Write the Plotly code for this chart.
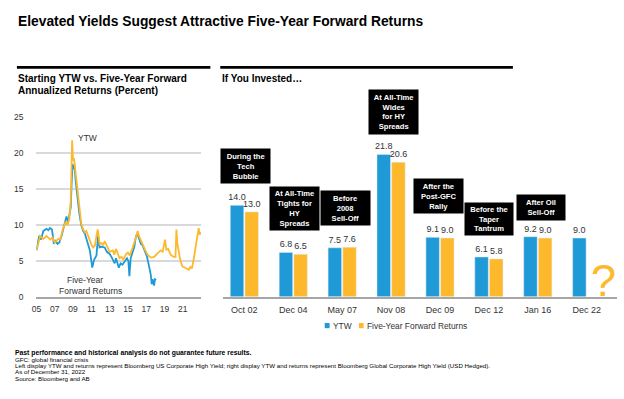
import plotly.graph_objects as go

W, H = 624, 399
BLUE = "#1F9AD6"
YELLOW = "#FDB92B"
FONT = "Liberation Sans"

# ---------------- data: left panel (decimal years) ----------------
ytw_years = [2005.0, 2005.1, 2005.4, 2005.75, 2006.1, 2006.5, 2006.75, 2007.0, 2007.4, 2007.6,
             2007.9, 2008.2, 2008.4, 2008.6, 2008.75, 2008.83, 2008.9, 2009.0, 2009.1, 2009.2,
             2009.3, 2009.5, 2009.7, 2009.9, 2010.1, 2010.3, 2010.45, 2010.6, 2010.84, 2011.0,
             2011.2, 2011.4, 2011.56, 2011.7, 2011.8, 2011.9, 2012.1, 2012.3, 2012.46, 2012.65,
             2012.8, 2013.0, 2013.36, 2013.5, 2013.7, 2013.9, 2014.08, 2014.3, 2014.5, 2014.8,
             2015.0, 2015.2, 2015.35, 2015.52, 2015.75, 2016.06, 2016.2, 2016.42, 2016.6, 2016.78,
             2016.9, 2017.14, 2017.5, 2017.86, 2018.22, 2018.58, 2018.8, 2019.05, 2019.2, 2019.4,
             2019.67, 2020.0, 2020.2, 2020.3, 2020.4, 2020.5, 2020.68, 2020.93, 2021.3, 2021.65,
             2021.83, 2022.0, 2022.19, 2022.37, 2022.5, 2022.6, 2022.73, 2022.84, 2022.98]
ytw_values = [6.7, 6.9, 8.5, 8.1, 8.5, 8.0, 8.3, 7.6, 8.1, 8.0,
              9.5, 10.5, 10.0, 11.0, 13.5, 19.5, 21.8, 19.0, 19.3, 18.2,
              17.0, 14.5, 12.0, 10.2, 9.4, 9.0, 9.2, 8.7, 7.8, 7.3,
              6.9, 7.2, 8.5, 9.4, 8.5, 7.4, 7.5, 7.2, 7.8, 7.2,
              6.7, 6.3, 6.5, 5.9, 6.7, 6.0, 5.4, 5.6, 5.2, 6.0,
              6.2, 5.8, 6.5, 6.9, 7.8, 9.2, 8.5, 7.8, 7.2, 6.9,
              6.5, 5.9, 5.5, 5.6, 6.0, 6.5, 6.3, 8.0, 6.6, 6.7,
              5.9, 5.6, 5.6, 9.4, 7.5, 6.7, 5.4, 4.3, 4.0, 3.8,
              4.2, 4.0, 5.3, 6.7, 7.8, 8.5, 9.6, 8.7, 9.0]

fwd_years = [2005.0, 2005.1, 2005.3, 2005.5, 2005.76, 2006.1, 2006.3, 2006.48, 2006.7, 2006.9,
             2007.1, 2007.3, 2007.5, 2007.74, 2008.1, 2008.28, 2008.46, 2008.6, 2008.75, 2008.85,
             2008.95, 2009.05, 2009.15, 2009.3, 2009.5, 2009.7, 2009.9, 2010.1, 2010.3, 2010.5,
             2010.7, 2010.84, 2011.0, 2011.1, 2011.3, 2011.56, 2011.74, 2011.9, 2012.1, 2012.46,
             2012.7, 2013.0, 2013.2, 2013.4, 2013.55, 2013.7, 2014.0, 2014.2, 2014.4, 2014.6,
             2014.9, 2015.05, 2015.16, 2015.3, 2015.52, 2015.7, 2015.88, 2016.06, 2016.25, 2016.42,
             2016.6, 2016.78, 2017.07, 2017.32, 2017.5, 2017.6, 2017.7, 2017.86, 2017.95, 2018.08]
fwd_values = [6.5, 7.2, 8.5, 8.0, 9.2, 9.5, 9.3, 9.6, 9.4, 7.4,
              7.8, 7.4, 7.6, 8.5, 10.1, 11.2, 10.4, 11.7, 12.5, 16.0,
              18.5, 17.8, 18.3, 16.0, 13.2, 11.5, 10.0, 9.2, 8.8, 7.8,
              7.0, 6.5, 5.0, 4.1, 5.2, 5.8, 8.5, 6.9, 7.0, 6.9,
              6.3, 6.0, 5.6, 5.0, 4.7, 5.4, 4.1, 4.7, 4.5, 4.9,
              5.4, 5.0, 2.9, 5.4, 6.3, 7.0, 8.5, 8.7, 8.0, 7.4,
              7.2, 6.5, 5.7, 4.2, 3.1, 1.8, 2.5, 1.6, 2.5, 2.4]

left_tick_years = [2005, 2007, 2009, 2011, 2013, 2015, 2017, 2019, 2021]
left_tick_text = ["05", "07", "09", "11", "13", "15", "17", "19", "21"]

# ---------------- data: right panel ----------------
periods = ["Oct 02", "Dec 04", "May 07", "Nov 08", "Dec 09", "Dec 12", "Jan 16", "Dec 22"]
bar_ytw = [14.0, 6.8, 7.5, 21.8, 9.1, 6.1, 9.2, 9.0]
bar_fwd = [13.0, 6.5, 7.6, 20.6, 9.0, 5.8, 9.0, None]
callouts = ["During the<br>Tech<br>Bubble",
            "At All-Time<br>Tights for<br>HY<br>Spreads",
            "Before<br>2008<br>Sell-Off",
            "At All-Time<br>Wides<br>for HY<br>Spreads",
            "After the<br>Post-GFC<br>Rally",
            "Before the<br>Taper<br>Tantrum",
            "After Oil<br>Sell-Off"]


def px(x):
    return x / W


def py(y):
    return 1 - y / H


fig = go.Figure()

fig.add_trace(go.Scatter(x=fwd_years, y=fwd_values, mode="lines", name="Five-Year Forward Returns",
                         line=dict(color=BLUE, width=1.8), xaxis="x", yaxis="y", showlegend=False))
fig.add_trace(go.Scatter(x=ytw_years, y=ytw_values, mode="lines", name="YTW",
                         line=dict(color=YELLOW, width=1.8), xaxis="x", yaxis="y", showlegend=False))

fig.add_trace(go.Bar(x=periods, y=bar_ytw, name="YTW", marker_color=BLUE,
                     text=[f"{v:.1f}" for v in bar_ytw], textposition="outside",
                     textfont=dict(size=9, color="#333333", family=FONT), constraintext="none",
                     cliponaxis=False, xaxis="x2", yaxis="y2", showlegend=False))
fig.add_trace(go.Bar(x=periods, y=bar_fwd, name="Five-Year Forward Returns", marker_color=YELLOW,
                     text=[("" if v is None else f"{v:.1f}") for v in bar_fwd], textposition="outside",
                     textfont=dict(size=9, color="#333333", family=FONT), constraintext="none",
                     cliponaxis=False, xaxis="x2", yaxis="y2", showlegend=False))

# left panel geometry (pixels)
L_X0, L_X1, L_Y0, L_Y1 = 31.7, 197.7, 115.0, 299.7
# right panel geometry
R_X0, R_X1, R_YTOP, R_BASE = 220.0, 617.0, 100.0, 299.3
R_SCALE = 6.7
R_SLOT = 49.3
R_C0 = 241.3

fig.update_layout(
    width=W, height=H, margin=dict(l=0, r=0, t=0, b=0),
    paper_bgcolor="white", plot_bgcolor="white",
    font=dict(family=FONT, color="#333333"),
    barmode="group", bargap=0.4, bargroupgap=0.08,
    xaxis=dict(domain=[px(L_X0), px(L_X1)], range=[2005.0, 2023.0], anchor="y",
               tickvals=left_tick_years, ticktext=left_tick_text, showgrid=False,
               showline=True, linecolor="#A6A6A6", linewidth=2, zeroline=False,
               ticklabelstandoff=3,
               tickfont=dict(size=8.5, color="#333333"), ticks="", fixedrange=True),
    yaxis=dict(domain=[py(L_Y1), py(L_Y0)], range=[0, 25], anchor="x",
               tickvals=[0, 5, 10, 15, 20, 25], showgrid=True, gridcolor="#D9D9D9", gridwidth=1.5,
               zeroline=False, showline=False, ticklabelstandoff=12,
               tickfont=dict(size=8.5, color="#333333"), ticks="", fixedrange=True),
    xaxis2=dict(domain=[px(R_X0), px(R_X1)],
                range=[(R_X0 - R_C0) / R_SLOT, (R_X1 - R_C0) / R_SLOT], anchor="y2",
                showgrid=False, showline=True, linecolor="#A6A6A6", linewidth=2, ticks="",
                ticklabelstandoff=3,
                tickfont=dict(size=9, color="#333333"), fixedrange=True),
    yaxis2=dict(domain=[py(R_BASE), py(R_YTOP)], range=[0, (R_BASE - R_YTOP) / R_SCALE], anchor="x2",
                visible=False, fixedrange=True),
)

ann = []
# main title
ann.append(dict(x=px(11), y=py(16.5), xref="paper", yref="paper", xanchor="left", yanchor="middle",
                text="<b>Elevated Yields Suggest Attractive Five-Year Forward Returns</b>", showarrow=False,
                font=dict(size=13.8, color="#000000", family=FONT)))
# panel titles
ann.append(dict(x=px(11.5), y=py(75), xref="paper", yref="paper", xanchor="left", yanchor="middle",
                text="<b>Starting YTW vs. Five-Year Forward</b>", showarrow=False,
                font=dict(size=10, color="#000000")))
ann.append(dict(x=px(11.5), y=py(87.3), xref="paper", yref="paper", xanchor="left", yanchor="middle",
                text="<b>Annualized Returns (Percent)</b>", showarrow=False,
                font=dict(size=10, color="#000000")))
ann.append(dict(x=px(216.5), y=py(75.7), xref="paper", yref="paper", xanchor="left", yanchor="middle",
                text="<b>If You Invested…</b>", showarrow=False, font=dict(size=10, color="#000000")))
# series labels on left panel
ann.append(dict(x=px(83.3), y=py(136), xref="paper", yref="paper", xanchor="center", yanchor="middle",
                text="YTW", showarrow=False, font=dict(size=8.5, color="#333333")))
ann.append(dict(x=px(80.5), y=py(282.3), xref="paper", yref="paper", xanchor="center", yanchor="middle",
                text="Five-Year", showarrow=False, font=dict(size=8.5, color="#333333")))
ann.append(dict(x=px(86.3), y=py(293.3), xref="paper", yref="paper", xanchor="center", yanchor="middle",
                text="Forward Returns", showarrow=False, font=dict(size=8.5, color="#333333")))

# callout boxes (center x, center y, width, height)
boxes = [(242.0, 165.5, 49.4, 34.4), (292.2, 209.2, 49.0, 43.0), (343.3, 207.8, 48.7, 34.3),
         (392.0, 109.7, 49.4, 44.0), (437.0, 195.5, 49.4, 34.4), (488.3, 220.0, 48.0, 32.0),
         (540.0, 207.5, 48.0, 25.0)]
for (cx, cy, bw, bh), txt in zip(boxes, callouts):
    ann.append(dict(x=px(cx), y=py(cy), xref="paper", yref="paper", xanchor="center", yanchor="middle",
                    text=f"<b>{txt}</b>", showarrow=False, bgcolor="#000000", borderpad=0,
                    width=bw, height=bh, align="center",
                    font=dict(size=7.6, color="#FFFFFF")))

# question mark for unknown future return
ann.append(dict(x=px(603.5), y=py(283), xref="paper", yref="paper", xanchor="center", yanchor="middle",
                text="?", showarrow=False, font=dict(size=45, color=YELLOW, family=FONT)))

# legend (manual, compact)
ann.append(dict(x=px(328.5), y=py(329), xref="paper", yref="paper", xanchor="left", yanchor="middle",
                text="YTW", showarrow=False, font=dict(size=8.4, color="#333333")))
ann.append(dict(x=px(362.5), y=py(329), xref="paper", yref="paper", xanchor="left", yanchor="middle",
                text="Five-Year Forward Returns", showarrow=False, font=dict(size=8.4, color="#333333")))

# footnotes
foot = [("<b>Past performance and historical analysis do not guarantee future results.</b>", 356.8, 6.8),
        ("GFC: global financial crisis", 363.2, 6.2),
        ("Left display YTW and returns represent Bloomberg US Corporate High Yield; right display YTW and returns "
         "represent Bloomberg Global Corporate High Yield (USD Hedged).", 369.8, 6.2),
        ("As of December 31, 2022", 376.4, 6.2),
        ("Source: Bloomberg and AB", 383.0, 6.2)]
for txt, yy, fs in foot:
    ann.append(dict(x=px(9.5), y=py(yy), xref="paper", yref="paper", xanchor="left", yanchor="middle",
                    text=txt, showarrow=False, borderpad=0, font=dict(size=fs, color="#000000")))

fig.update_layout(annotations=ann)

shapes = [
    dict(type="line", xref="paper", yref="paper", x0=px(12), x1=px(207), y0=py(64), y1=py(64),
         line=dict(color="#000000", width=2.6)),
    dict(type="line", xref="paper", yref="paper", x0=px(217), x1=px(512), y0=py(64), y1=py(64),
         line=dict(color="#000000", width=2.6)),
    dict(type="rect", xref="paper", yref="paper", x0=px(322.3), x1=px(327.2), y0=py(331.5), y1=py(326.2),
         fillcolor=BLUE, line=dict(width=0)),
    dict(type="rect", xref="paper", yref="paper", x0=px(356.8), x1=px(361.5), y0=py(331.5), y1=py(326.2),
         fillcolor=YELLOW, line=dict(width=0)),
]
fig.update_layout(shapes=shapes)

fig.write_html("out.html", config={"displayModeBar": False},
               post_script="document.body.style.margin='0';document.body.style.overflow='hidden';")
